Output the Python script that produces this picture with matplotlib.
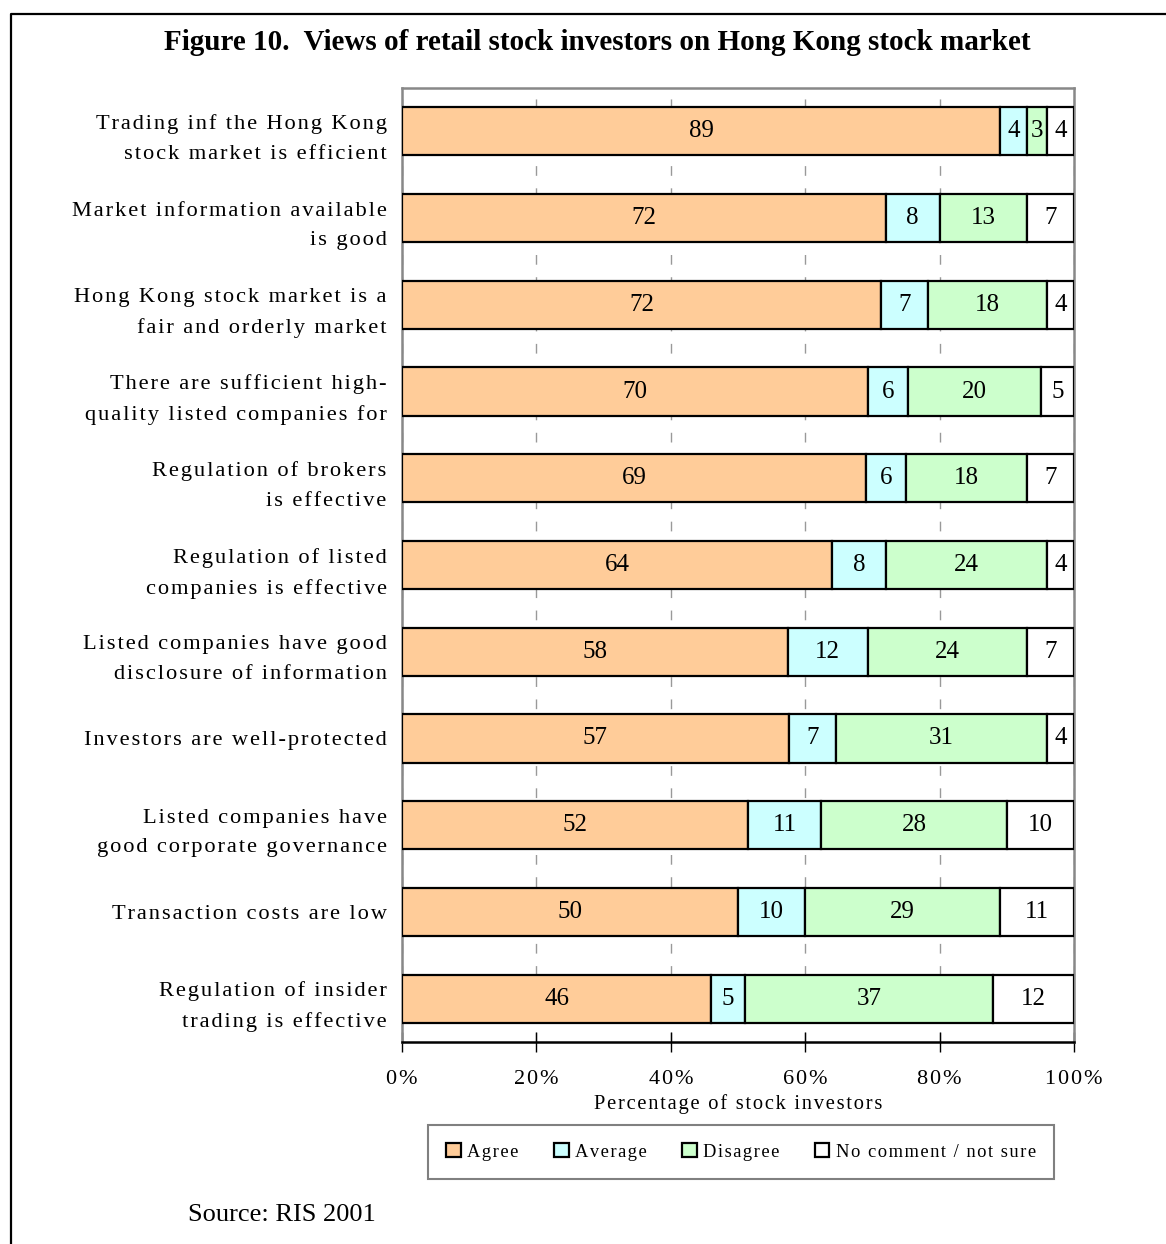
# Views of retail stock investors - 100% stacked horizontal bars
import numpy as np
import matplotlib.pyplot as plt
from matplotlib.lines import Line2D
from matplotlib.patches import Patch

statements = [
    'Trading inf the Hong Kong\nstock market is efficient',
    'Market information available\nis good',
    'Hong Kong stock market is a\nfair and orderly market',
    'There are sufficient high-\nquality listed companies for',
    'Regulation of brokers\nis effective',
    'Regulation of listed\ncompanies is effective',
    'Listed companies have good\ndisclosure of information',
    'Investors are well-protected',
    'Listed companies have\ngood corporate governance',
    'Transaction costs are low',
    'Regulation of insider\ntrading is effective',
]
agree = [89, 72, 72, 70, 69, 64, 58, 57, 52, 50, 46]
average = [4, 8, 7, 6, 6, 8, 12, 7, 11, 10, 5]
disagree = [3, 13, 18, 20, 18, 24, 24, 31, 28, 29, 37]
no_comment = [4, 7, 4, 5, 7, 4, 7, 4, 10, 11, 12]

series_names = ['Agree', 'Average', 'Disagree', 'No comment / not sure']
colors = ['#FFCC99', '#CCFFFF', '#CCFFCC', '#FFFFFF']

SERIF = ['Liberation Serif', 'DejaVu Serif']
plt.rcParams['font.family'] = SERIF


def spaced(s, n=1):
    # poor man's letter spacing with hair spaces
    gap = '\u200a' * n
    return '\n'.join(gap.join(line) for line in s.split('\n'))


if __name__ == '__main__':
    W, H = 1166, 1244
    fig = plt.figure(figsize=(W / 100, H / 100), dpi=100)
    ax = fig.add_axes([402 / W, 1 - 1042 / H, 672 / W, 954 / H])

    data = np.array([agree, average, disagree, no_comment], dtype=float)
    shares = data / data.sum(axis=0) * 100
    y = np.arange(len(statements))

    left = np.zeros(len(statements))
    for vals, raw, name, c in zip(shares, data, series_names, colors):
        bars = ax.barh(y, vals, left=left, height=0.555, color=c,
                       edgecolor='black', linewidth=1.6, label=name, zorder=3)
        ax.bar_label(bars, labels=[str(int(v)) for v in raw],
                     label_type='center', fontsize=18, color='black')
        left += vals

    ax.set_xlim(0, 100)
    ax.set_ylim(len(statements) - 0.5, -0.5)
    ax.set_xticks(np.arange(0, 101, 20))
    ax.set_xticklabels([spaced('%d%%' % v) for v in range(0, 101, 20)],
                       fontsize=16)
    ax.set_yticks(y)
    ax.set_yticklabels([spaced(s) for s in statements], fontsize=16.2,
                       linespacing=1.75)
    ax.tick_params(axis='y', length=0, pad=11)
    ax.tick_params(axis='x', direction='inout', length=14, width=1,
                   color='black', pad=13)

    ax.xaxis.grid(True, color='#999999', linestyle=(0, (7, 9)), linewidth=1)
    ax.set_axisbelow(True)
    for side in ['left', 'top', 'right']:
        ax.spines[side].set_color('#888888')
        ax.spines[side].set_linewidth(1.8)
    ax.spines['bottom'].set_color('black')
    ax.spines['bottom'].set_linewidth(1.8)

    ax.set_xlabel(spaced('Percentage of stock investors'), fontsize=14.8,
                  labelpad=4)

    fig.text(597 / W, 1 - 42 / H,
             'Figure 10.  Views of retail stock investors on Hong Kong stock market',
             ha='center', va='center', fontsize=21, fontweight='bold')
    fig.text(188 / W, 1 - 1215 / H, 'Source: RIS 2001', ha='left',
             va='center', fontsize=19)

    handles = [Patch(facecolor=c, edgecolor='black', linewidth=1.6)
               for c in colors]
    leg = fig.legend(handles, [spaced(s) for s in series_names], loc='center',
                     bbox_to_anchor=(741 / W, 1 - 1152 / H), ncol=4,
                     fontsize=13.3, frameon=True, fancybox=False,
                     edgecolor='#808080', framealpha=1, borderpad=1.0,
                     handlelength=0.8, handleheight=0.8, handletextpad=0.35,
                     columnspacing=1.9)
    leg.get_frame().set_linewidth(1.5)

    # outer frame around the figure (left and top edges visible)
    fig.add_artist(Line2D([11 / W, 11 / W, 1.01], [-0.01, 1 - 14 / H, 1 - 14 / H],
                          transform=fig.transFigure, color='black', linewidth=1.6))

    fig.savefig('out.png', dpi=100)
